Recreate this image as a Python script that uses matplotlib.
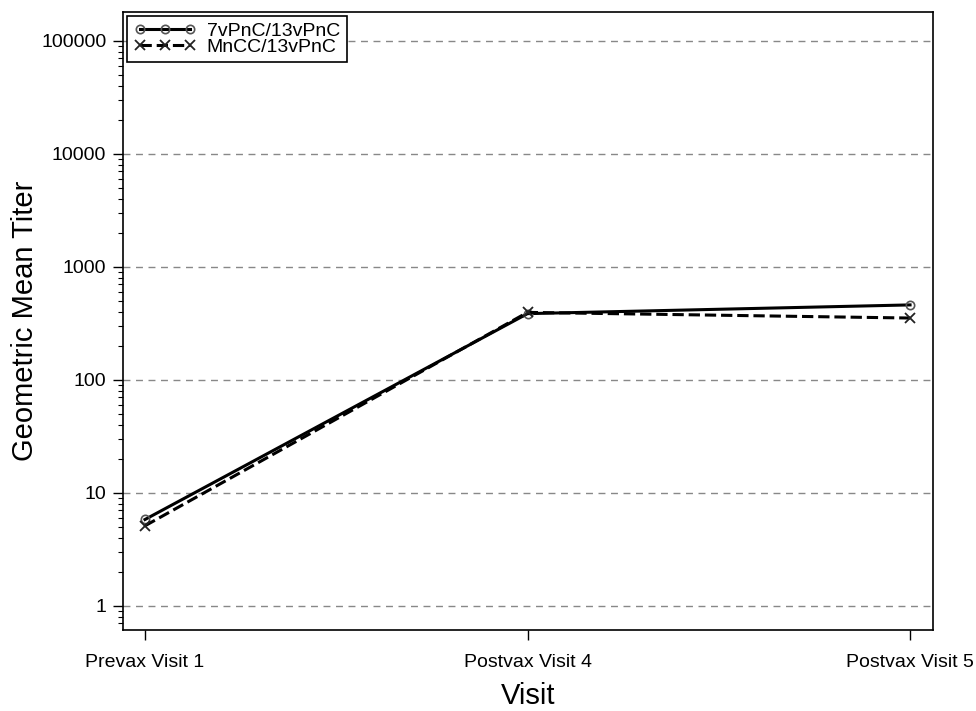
import matplotlib
matplotlib.use("Agg")
import matplotlib.pyplot as plt
from matplotlib.ticker import LogLocator, FixedLocator, NullFormatter

plt.rcParams['font.family'] = ['Liberation Sans', 'DejaVu Sans']

visits = ["Prevax Visit 1", "Postvax Visit 4", "Postvax Visit 5"]
gmt_7v = [5.8, 385, 460]
gmt_mncc = [5.1, 395, 352]
yticks = [1, 10, 100, 1000, 10000, 100000]

fig = plt.figure(figsize=(9.76, 7.11), dpi=100)
ax = fig.add_axes([123/976, 1 - 630/711, (933-123)/976, (630-12)/711])

x = list(range(len(visits)))
ax.plot(x, gmt_7v, color='black', lw=2.2, ls='-', marker='o', ms=6,
        mfc='none', mec='#555555', mew=1.2, label='7vPnC/13vPnC', zorder=3)
ax.plot(x, gmt_mncc, color='black', lw=2.2, ls='--', marker='x', ms=7,
        mec='#222222', mew=1.3, label='MnCC/13vPnC', zorder=3)

ax.set_yscale('log')
ax.set_ylim(0.61, 180000)
ax.set_xlim(-0.0575, 2.06)
ax.set_xticks(x)
ax.set_xticklabels(visits, fontsize=14)
ax.yaxis.set_major_locator(FixedLocator(yticks))
ax.set_yticklabels([str(v) for v in yticks], fontsize=14)
ax.yaxis.set_minor_locator(LogLocator(base=10, subs=range(2, 10), numticks=20))
ax.yaxis.set_minor_formatter(NullFormatter())
ax.tick_params(axis='both', which='major', direction='out', length=7, width=1, pad=5)
ax.tick_params(axis='x', which='major', pad=10)
ax.tick_params(axis='y', which='minor', direction='out', length=3.5, width=0.8)

for v in yticks:
    ax.axhline(v, color='#888888', ls=(0, (5, 4)), lw=1, zorder=1)

for s in ax.spines.values():
    s.set_linewidth(1.2)

ax.set_xlabel('Visit', fontsize=21, labelpad=8)
ax.set_ylabel('Geometric Mean Titer', fontsize=21)
ax.yaxis.set_label_coords(-0.104, 0.5)

leg = ax.legend(loc='upper left', fontsize=14, frameon=True, fancybox=False,
                edgecolor='black', framealpha=1, borderpad=0.35,
                labelspacing=-0.12, handlelength=3.2, handletextpad=0.55,
                borderaxespad=0.2, numpoints=3)
leg.get_frame().set_linewidth(1.2)

fig.savefig('out.png', dpi=100)
